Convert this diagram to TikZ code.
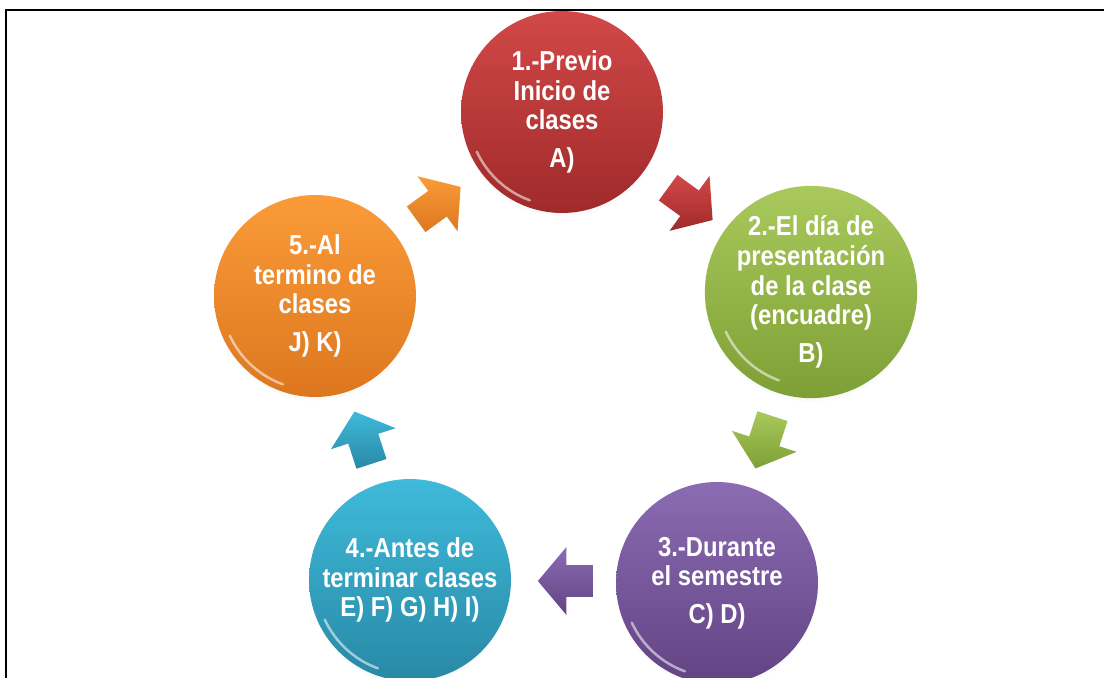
\documentclass[tikz,border=0pt]{standalone}
\usepackage{fontspec}
\setmainfont[FakeStretch=0.87]{Liberation Sans}
\usetikzlibrary{shapes.arrows,shadows}
\definecolor{redT}{HTML}{D24848}
\definecolor{redB}{HTML}{A02A2A}
\definecolor{grnT}{HTML}{A9C95C}
\definecolor{grnB}{HTML}{7D9F35}
\definecolor{purT}{HTML}{8B6BB2}
\definecolor{purB}{HTML}{624484}
\definecolor{bluT}{HTML}{3FBADA}
\definecolor{bluB}{HTML}{2889A6}
\definecolor{orgT}{HTML}{FA9B38}
\definecolor{orgB}{HTML}{DD771F}
\begin{document}
\begin{tikzpicture}[x=0.02cm,y=-0.02cm,
  stage/.style n args={2}{circle, minimum size=4.04cm, inner sep=0pt,
    top color=#1, bottom color=#2, text=white, align=center,
    font=\bfseries\fontsize{15.6}{16.9}\selectfont,
    circular drop shadow={opacity=0.18, shadow xshift=0cm, shadow yshift=-0.08cm, shadow scale=1.0}},
  flow/.style n args={2}{single arrow, minimum height=1.1cm, minimum width=1.36cm,
    inner xsep=0pt, inner ysep=0.21cm,
    single arrow tip angle=100,
    top color=#1, bottom color=#2},
  gleam/.style={white, opacity=0.55, line width=0.05cm, line cap=round}
]
\clip (0,0) rectangle (1104,677);
\fill[white] (0,0) rectangle (1104,677);
% frame
\draw[line width=0.045cm] (6,690) -- (6,10) -- (1120,10);

% stages
\node[stage={redT}{redB}] (c1) at (562,112) {1.-Previo\\Inicio de\\clases\\[0.16cm]A)};
\node[stage={grnT}{grnB}] (c2) at (811,292) {2.-El día de\\presentación\\de la clase\\(encuadre)\\[0.16cm]B)};
\node[stage={purT}{purB}] (c3) at (717,583) {3.-Durante\\el semestre\\[0.16cm]C) D)};
\node[stage={bluT}{bluB}] (c4) at (410,580) {4.-Antes de\\terminar clases\\E) F) G) H) I)};
\node[stage={orgT}{orgB}] (c5) at (315,296) {5.-Al\\termino de\\clases\\[0.16cm]J) K)};

% gleams on the lower rim
\foreach \c in {c1,c2,c3,c4,c5}{
  \draw[gleam] (\c.center) ++(205:1.88cm) arc[start angle=205, end angle=250, radius=1.88cm];
}

% cycle arrows
\node[flow={redT}{redB}, rotate=-36] (a12) at (685,200) {};
\node[flow={grnT}{grnB}, rotate=-108] (a23) at (766,436) {};
\node[flow={purT}{purB}, rotate=180] (a34) at (572,581) {};
\node[flow={bluT}{bluB}, rotate=108] (a45) at (365,444) {};
\node[flow={orgT}{orgB}, rotate=36] (a51) at (433,207) {};
\end{tikzpicture}
\end{document}
